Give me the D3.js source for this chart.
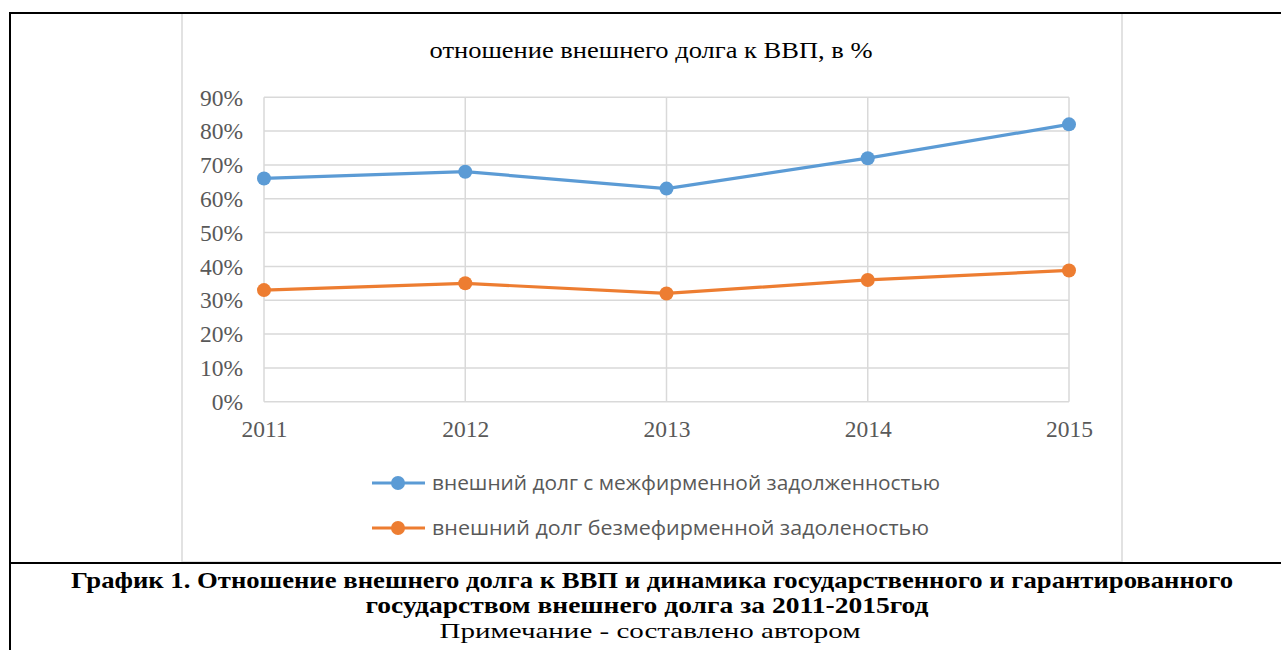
<!DOCTYPE html>
<html>
<head>
<meta charset="utf-8">
<script src="https://cdn.jsdelivr.net/npm/d3@7/dist/d3.min.js"></script>
<style>
html,body{margin:0;padding:0;background:#fff;}
svg{display:block;}
</style>
</head>
<body>
<svg id="c" width="1281" height="650"></svg>
<script>
const years = ["2011","2012","2013","2014","2015"];
const seriesNames = ["внешний долг с межфирменной задолженностью","внешний долг безмефирменной задоленостью"];
const withIntercompany = [0.66, 0.68, 0.63, 0.72, 0.82];
const withoutIntercompany = [0.33, 0.35, 0.32, 0.36, 0.388];
const yTicks = [0,0.1,0.2,0.3,0.4,0.5,0.6,0.7,0.8,0.9];
const chartTitle = "отношение внешнего долга к ВВП, в %";
const captionLines = ["График 1. Отношение внешнего долга к ВВП и динамика государственного и гарантированного","государством внешнего долга за 2011-2015год"];
const noteLine = "Примечание - составлено автором";
const colors = ["#5B9BD5","#ED7D31"];

const serif = "'Liberation Serif','Times New Roman',Times,serif";
const sans = "'Open Sans','Noto Sans',sans-serif";
const svg = d3.select("#c");

// frames
svg.append("rect").attr("x",182).attr("y",13).attr("width",940).attr("height",549)
  .attr("fill","#fff").attr("stroke","#d9d9d9").attr("stroke-width",1.5);
svg.append("line").attr("x1",9).attr("x2",1281).attr("y1",13).attr("y2",13).attr("stroke","#000").attr("stroke-width",2);
svg.append("line").attr("x1",10).attr("x2",10).attr("y1",12).attr("y2",650).attr("stroke","#000").attr("stroke-width",2);
svg.append("line").attr("x1",9).attr("x2",1281).attr("y1",563).attr("y2",563).attr("stroke","#000").attr("stroke-width",2);

const x = d3.scalePoint().domain(years).range([264,1069]);
const y = d3.scaleLinear().domain([0,0.9]).range([401.7,97.3]);

// grid
const g = svg.append("g");
g.selectAll(".hg").data(yTicks).join("line")
  .attr("x1",264).attr("x2",1069).attr("y1",d=>y(d)).attr("y2",d=>y(d))
  .attr("stroke","#d9d9d9").attr("stroke-width",1.5);
g.selectAll(".vg").data(years).join("line")
  .attr("x1",d=>x(d)).attr("x2",d=>x(d)).attr("y1",y(0.9)).attr("y2",y(0))
  .attr("stroke","#d9d9d9").attr("stroke-width",1.5);

// axes
const yAxis = d3.axisLeft(y).tickValues(yTicks).tickFormat(d3.format(".0%")).tickSize(0).tickPadding(21);
const ya = svg.append("g").attr("transform","translate(264,0)").call(yAxis);
ya.select(".domain").remove();
ya.selectAll("text").attr("font-family",serif).attr("font-size",23.5).attr("fill","#595959").attr("dy","0.33em");

const xAxis = d3.axisBottom(x).tickSize(0).tickPadding(0);
const xa = svg.append("g").attr("transform",`translate(0,${y(0)})`).call(xAxis);
xa.select(".domain").remove();
xa.selectAll("text").attr("font-family",serif).attr("font-size",23.5).attr("fill","#595959").attr("dy",null).attr("y",35.5);

// title
svg.append("text").attr("x",651).attr("y",58).attr("text-anchor","middle")
  .attr("font-family",serif).attr("font-size",23).attr("fill","#000")
  .attr("textLength",443).attr("lengthAdjust","spacingAndGlyphs")
  .text(chartTitle);

// series
const data = [withIntercompany, withoutIntercompany];
const line = d3.line().x((d,i)=>x(years[i])).y(d=>y(d));
data.forEach((s,k)=>{
  svg.append("path").datum(s).attr("d",line).attr("fill","none").attr("stroke",colors[k]).attr("stroke-width",3.2).attr("stroke-linejoin","round");
  svg.selectAll(".m"+k).data(s).join("circle").attr("cx",(d,i)=>x(years[i])).attr("cy",d=>y(d)).attr("r",7).attr("fill",colors[k]);
});

// legend
const legendWidths = [508, 497];
const lg = svg.append("g");
seriesNames.forEach((n,k)=>{
  const yy = 483 + k*45;
  lg.append("line").attr("x1",372).attr("x2",425).attr("y1",yy).attr("y2",yy).attr("stroke",colors[k]).attr("stroke-width",3.2);
  lg.append("circle").attr("cx",398).attr("cy",yy).attr("r",7).attr("fill",colors[k]);
  lg.append("text").attr("x",432).attr("y",yy).attr("dy","0.36em")
    .attr("font-family",sans).attr("font-size",20).attr("fill","#595959")
    .attr("textLength",legendWidths[k]).attr("lengthAdjust","spacingAndGlyphs")
    .text(n);
});

// caption
const cap = svg.append("g").attr("font-family",serif);
cap.append("text").attr("x",652).attr("y",588).attr("text-anchor","middle").attr("font-weight","bold")
  .attr("font-size",23).attr("textLength",1162).attr("lengthAdjust","spacingAndGlyphs").text(captionLines[0]);
cap.append("text").attr("x",647).attr("y",613).attr("text-anchor","middle").attr("font-weight","bold")
  .attr("font-size",23).attr("textLength",563).attr("lengthAdjust","spacingAndGlyphs").text(captionLines[1]);
cap.append("text").attr("x",650).attr("y",638).attr("text-anchor","middle")
  .attr("font-size",22).attr("textLength",421).attr("lengthAdjust","spacingAndGlyphs").text(noteLine);
</script>
</body>
</html>
